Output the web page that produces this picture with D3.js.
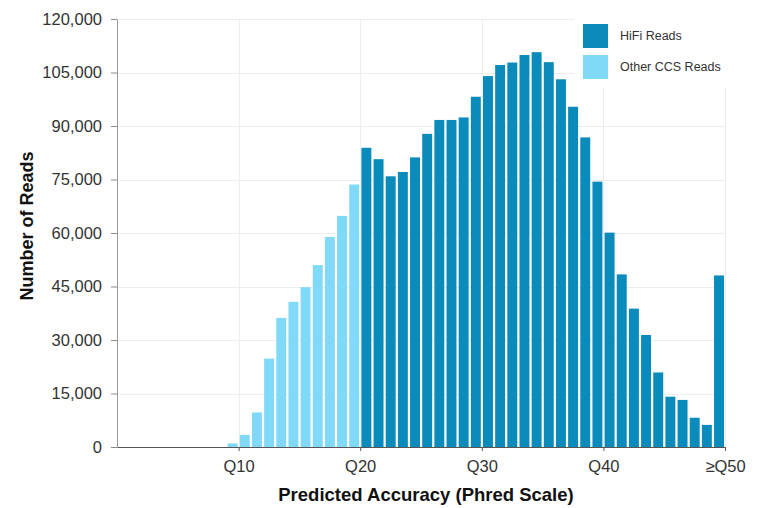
<!DOCTYPE html>
<html>
<head>
<meta charset="utf-8">
<script src="https://cdn.jsdelivr.net/npm/d3@7/dist/d3.min.js"></script>
<style>
  html, body { margin: 0; padding: 0; background: #fff; }
  svg { display: block; font-family: "Liberation Sans", Arial, Helvetica, sans-serif; }
</style>
</head>
<body>
<svg id="chart" width="765" height="508"></svg>
<script>
// Read-count histogram by predicted accuracy bin (Phred scale)
const otherCcsBins  = [9, 10, 11, 12, 13, 14, 15, 16, 17, 18, 19];
const otherCcsReads = [1000, 3400, 9700, 24800, 36200, 40700, 44800, 51000, 58900, 64800, 73600];

const hifiBins  = [20, 21, 22, 23, 24, 25, 26, 27, 28, 29,
                   30, 31, 32, 33, 34, 35, 36, 37, 38, 39,
                   40, 41, 42, 43, 44, 45, 46, 47, 48, 49];
const hifiReads = [83900, 80700, 75900, 77100, 81200, 87800, 91700, 91700, 92400, 98200,
                   104000, 107100, 107800, 109900, 110700, 107900, 103100, 95400, 86800, 74400,
                   60100, 48400, 38800, 31400, 20900, 14100, 13200, 8200, 6200, 48100];

const xTickValues = [10, 20, 30, 40, 50];
const xTickLabels = ["Q10", "Q20", "Q30", "Q40", "≥Q50"];
const yTickValues = [0, 15000, 30000, 45000, 60000, 75000, 90000, 105000, 120000];

const seriesNames = ["HiFi Reads", "Other CCS Reads"];
const seriesColors = ["#0a8bbb", "#80d9f7"];

const svg = d3.select("#chart");

const x = d3.scaleLinear().domain([0, 50]).range([117, 725]);
const y = d3.scaleLinear().domain([0, 120000]).range([447, 19]);

// grid
const grid = svg.append("g").attr("stroke", "#ededed").attr("stroke-width", 1);
grid.selectAll("line.h").data(yTickValues.slice(1)).join("line")
  .attr("class", "h")
  .attr("x1", x(0)).attr("x2", x(50))
  .attr("y1", d => Math.round(y(d)) + 0.5).attr("y2", d => Math.round(y(d)) + 0.5);
grid.selectAll("line.v").data(xTickValues).join("line")
  .attr("class", "v")
  .attr("y1", y(120000)).attr("y2", y(0))
  .attr("x1", d => Math.round(x(d)) + 0.5).attr("x2", d => Math.round(x(d)) + 0.5);

// bars
const series = [
  { bins: hifiBins, reads: hifiReads, color: seriesColors[0] },
  { bins: otherCcsBins, reads: otherCcsReads, color: seriesColors[1] }
];
series.forEach(s => {
  svg.append("g").selectAll("rect")
    .data(s.bins.map((b, i) => ({ bin: b, value: s.reads[i] })))
    .join("rect")
    .attr("x", d => x(d.bin) + 1.2)
    .attr("width", d => x(d.bin + 1) - x(d.bin) - 2.2)
    .attr("y", d => y(d.value))
    .attr("height", d => y(0) - y(d.value))
    .attr("fill", s.color);
});

// y axis
const yAxis = svg.append("g")
  .attr("transform", "translate(117,0)")
  .call(d3.axisLeft(y).tickValues(yTickValues).tickFormat(d3.format(","))
    .tickSize(6).tickSizeOuter(0).tickPadding(9));
yAxis.select(".domain").attr("stroke", "#9a9a9a");
yAxis.selectAll(".tick line").attr("stroke", "#8a8a8a");
yAxis.selectAll(".tick text").attr("fill", "#333").style("font-size", "16.5px");

// x axis
const xAxis = svg.append("g")
  .attr("transform", "translate(0,447)")
  .call(d3.axisBottom(x).tickValues(xTickValues)
    .tickFormat((d, i) => xTickLabels[i])
    .tickSize(4).tickSizeOuter(0).tickPadding(9));
xAxis.select(".domain").attr("stroke", "#555");
xAxis.selectAll(".tick line").attr("stroke", "#555");
xAxis.selectAll(".tick text").attr("fill", "#333").style("font-size", "16.5px");

// axis titles
svg.append("text")
  .attr("transform", "translate(33,226) rotate(-90)")
  .attr("text-anchor", "middle")
  .style("font-size", "18px").style("font-weight", "bold").attr("fill", "#111")
  .text("Number of Reads");
svg.append("text")
  .attr("x", 426).attr("y", 501)
  .attr("text-anchor", "middle")
  .style("font-size", "18.5px").style("font-weight", "bold").attr("fill", "#111")
  .text("Predicted Accuracy (Phred Scale)");

// legend
const legend = svg.append("g");
legend.append("rect").attr("x", 574).attr("y", 12).attr("width", 170).attr("height", 76).attr("fill", "#fff");
seriesNames.forEach((name, i) => {
  legend.append("rect")
    .attr("x", 583).attr("y", 24 + i * 31)
    .attr("width", 25).attr("height", 24)
    .attr("fill", seriesColors[i]);
  legend.append("text")
    .attr("x", 620).attr("y", 36 + i * 31)
    .attr("dy", "0.35em")
    .style("font-size", "12.5px").attr("fill", "#333")
    .text(name);
});
</script>
</body>
</html>
